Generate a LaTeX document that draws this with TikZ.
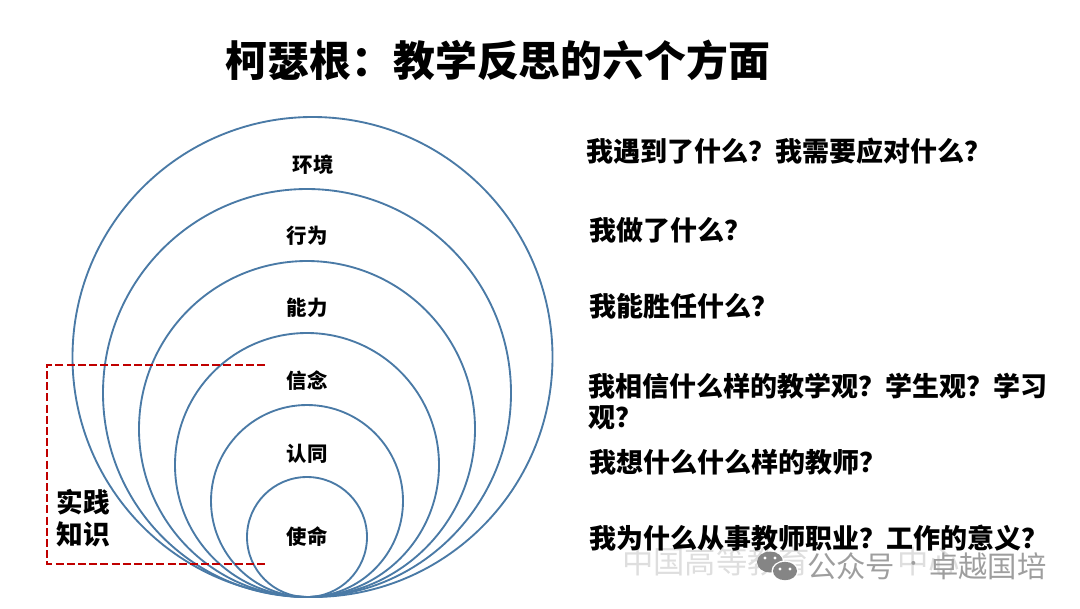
\documentclass[tikz,border=0pt]{standalone}
\usepackage{fontspec}
\setmainfont{Noto Sans CJK SC}
\usepackage{xcolor}
\usetikzlibrary{positioning}
\definecolor{ringblue}{HTML}{4A7AA6}
\definecolor{dashred}{HTML}{C00000}
\begin{document}
\begin{tikzpicture}[
  x=0.75pt, y=-0.75pt,
  ring/.style={draw=ringblue, circle, line width=1.4pt, inner sep=0pt, outer sep=0pt, minimum size=#1*1.5pt, anchor=south},
  lab/.style={font=\bfseries\fontsize{15.3}{18}\selectfont, inner sep=0pt},
  ask/.style={font=\bfseries\fontsize{20.25}{23.3}\selectfont, align=left, anchor=west, inner sep=0pt},
  mark1/.style={text=black!38, font=\fontsize{22}{26}\selectfont, inner sep=0pt, anchor=west},
  mark0/.style={text=black!13, font=\fontsize{23.5}{26}\selectfont, inner sep=0pt, anchor=west},
  bracket/.style={draw=dashred, line width=2pt, dash pattern=on 6pt off 2.4pt}
]
\useasboundingbox (0,0) rectangle (1080,608);
\node[inner sep=0pt, font=\bfseries\fontsize{31.4}{36}\selectfont] (title) at (498,60) {柯瑟根：教学反思的六个方面};
\coordinate (base) at (307,597);
\node[ring=240] (env) at (312.5,597) {};
\node[ring=204] (act) at (base) {};
\node[ring=168] (abi) at (base) {};
\node[ring=132] (bel) at (base) {};
\node[ring=96] (ide) at (base) {};
\node[ring=60] (mis) at (base) {};
\node[lab] (tenv) at (313,164.5) {环境};
\node[lab] (tact) at (307,236) {行为};
\node[lab] (tabi) at (307,307.5) {能力};
\node[lab] (tbel) at (307,381) {信念};
\node[lab] (tide) at (307,453.5) {认同};
\node[lab] (tmis) at (mis.center) {使命};
% bracket on the left
\coordinate (bt) at (265,365);
\coordinate (bb) at (265,564);
\draw[bracket] (bt) -- (47,365) -- (47,564) -- (bb);
\node[inner sep=0pt, align=left, font=\bfseries\fontsize{20}{24}\selectfont] (prac) at (83.5,518) {实践\\知识};
% faint marks underneath
\node[mark0] (wm0) at (622,562) {中国高等教育};
\node[mark0] (wm1) at (897,562) {中心};
\node[ask] (q1) at (586,151) {我遇到了什么？我需要应对什么？};
\node[ask] (q2) at (589.5,230) {我做了什么？};
\node[ask] (q3) at (589.5,306.5) {我能胜任什么？};
\node[ask] (q4) at (588.5,402) {我相信什么样的教学观？学生观？学习\\观？};
\node[ask] (q5) at (589.5,462) {我想什么什么样的教师？};
\node[ask] (q6) at (589.5,538) {我为什么从事教师职业？工作的意义？};
% chat icon
\fill[black!48] (770,562) ellipse (13 and 10.5);
\fill[white] (785,571) ellipse (13.5 and 10.5);
\fill[black!48] (785,571) ellipse (12 and 9.2);
\foreach \px/\py in {765/558, 775/558, 780/569, 790/569}
  \fill[white] (\px,\py) circle (1.6);
\node[mark1] (wm2) at (807,566) {公众号};
\node[mark1, font=\fontsize{14}{16}\selectfont] (wm3) at (904,566) {·};
\node[mark1] (wm4) at (929,566) {卓越国培};
\end{tikzpicture}
\end{document}
